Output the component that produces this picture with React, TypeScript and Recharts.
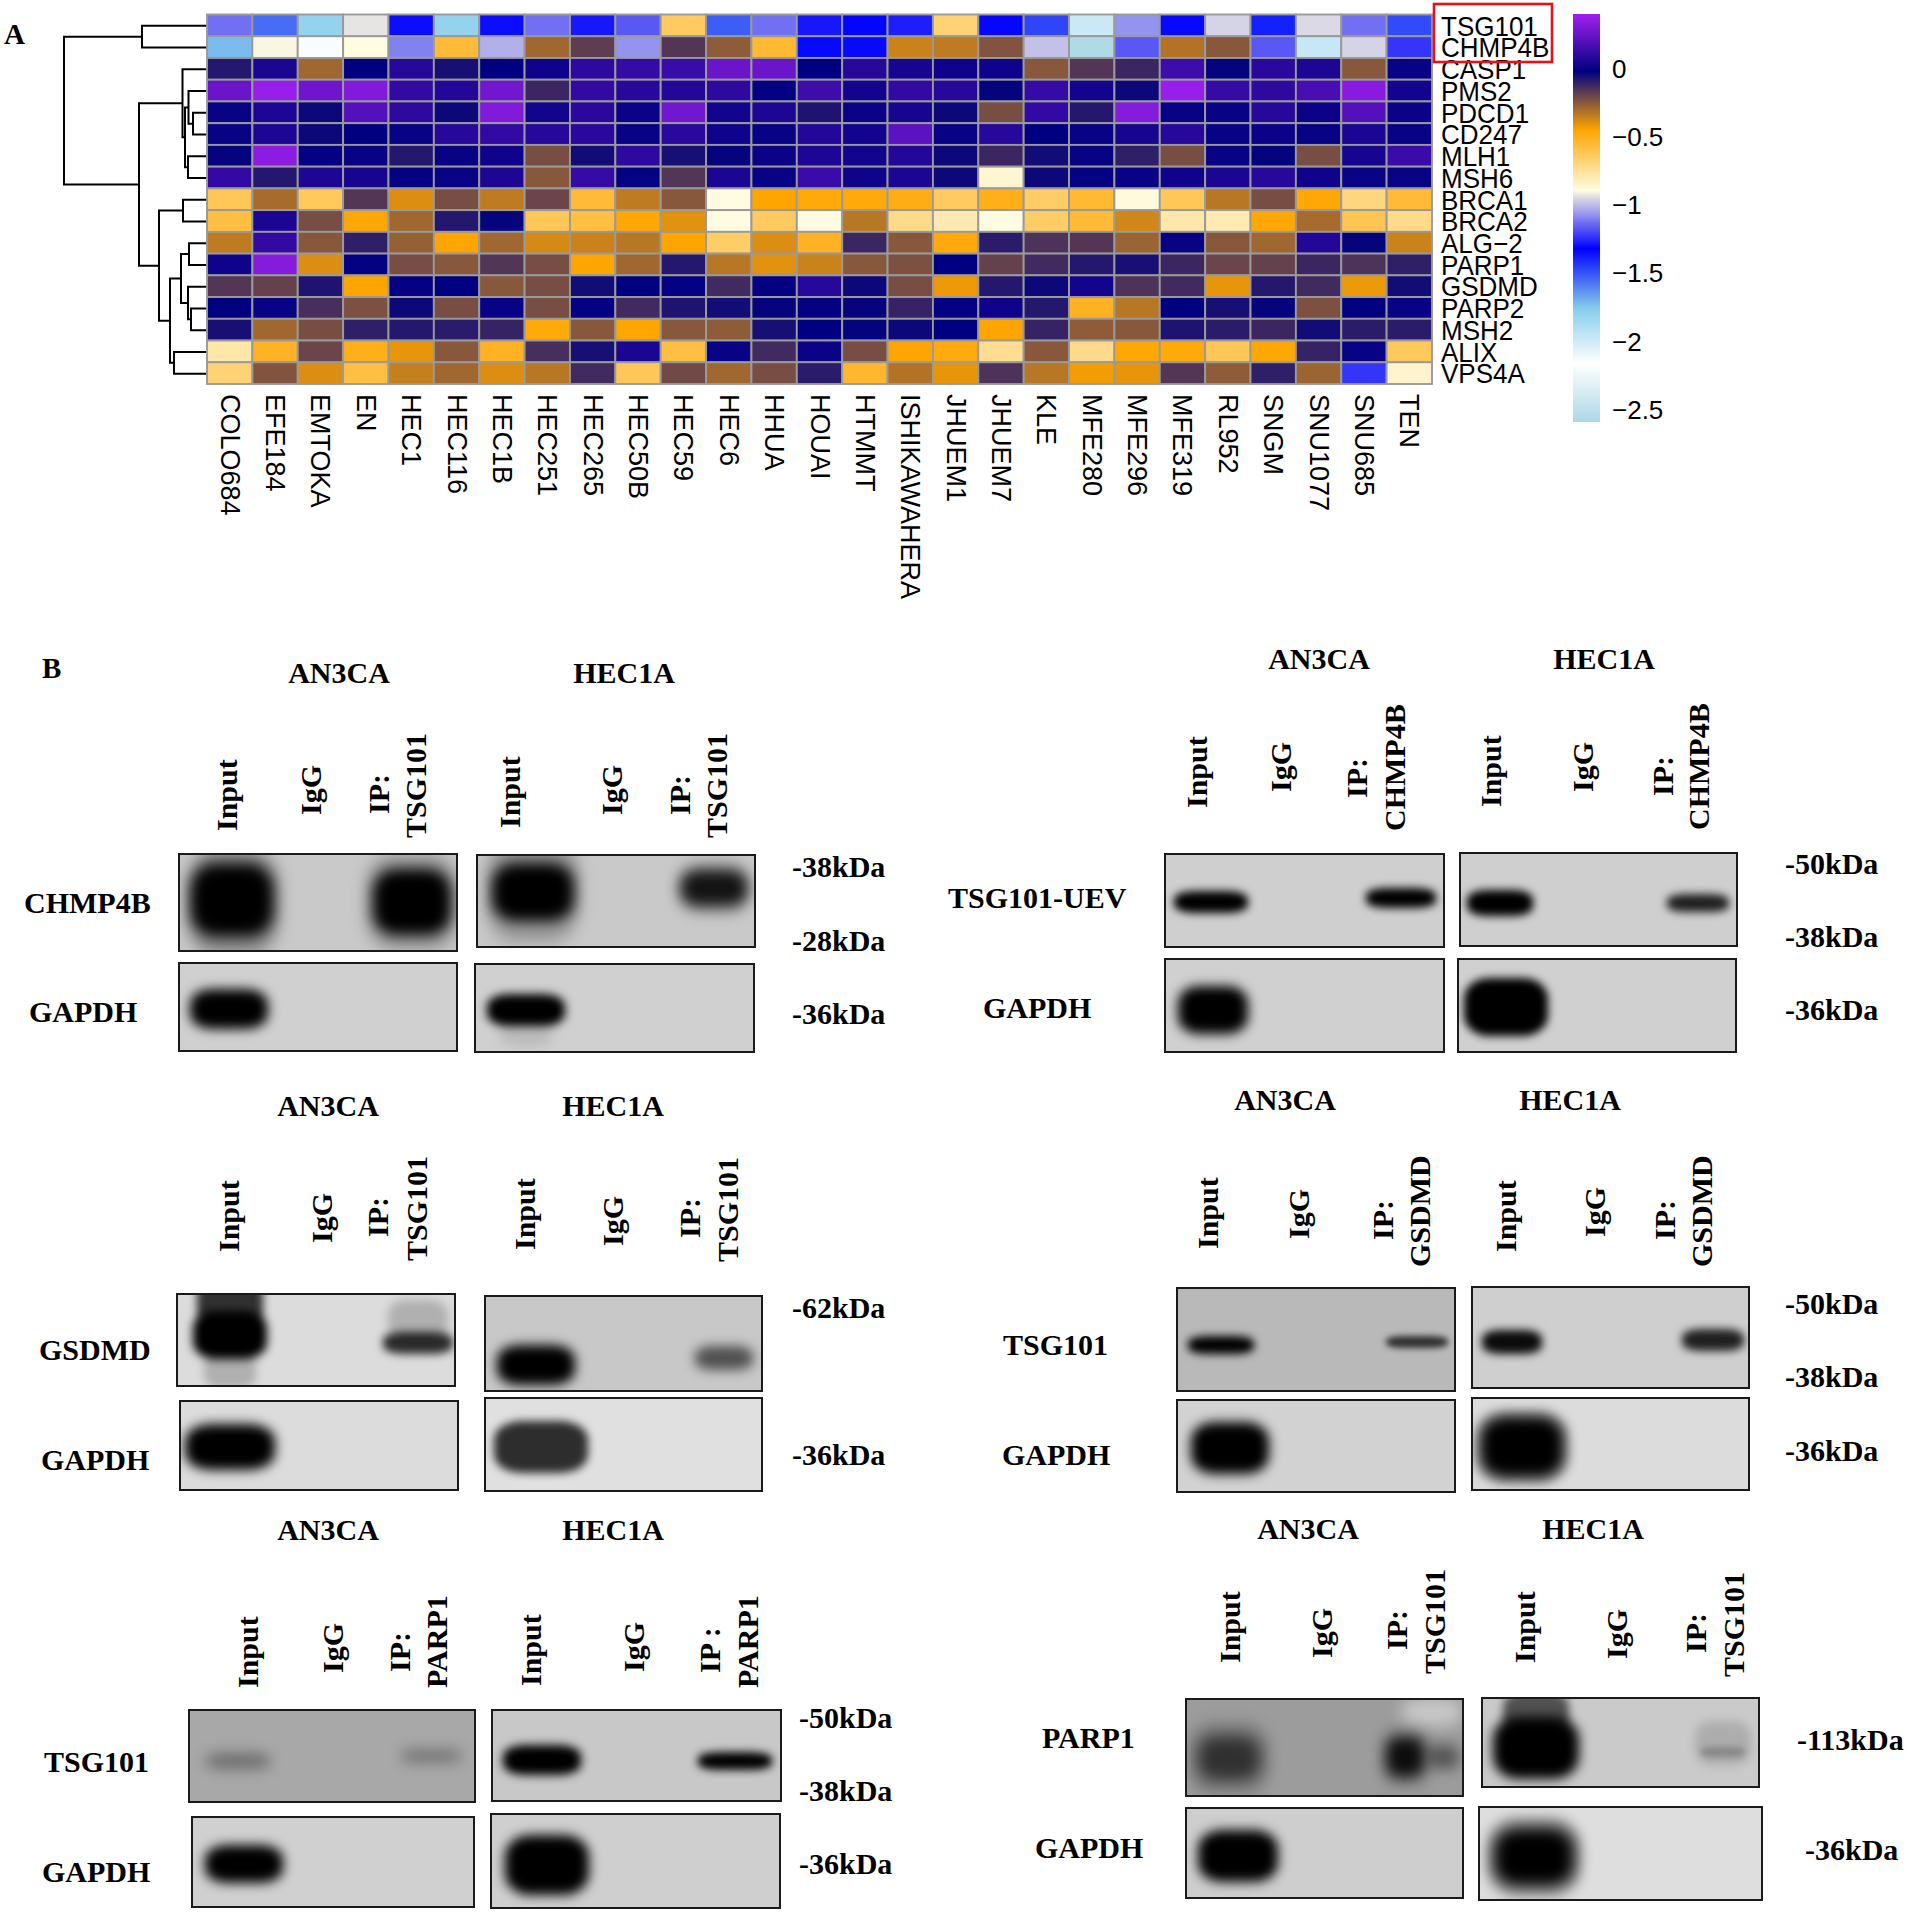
import React from "react";
import { BarChart, Bar, Scatter, ScatterChart, XAxis, YAxis } from "recharts";

const cellLines = [
  "COLO684", "EFE184", "EMTOKA", "EN", "HEC1", "HEC116", "HEC1B", "HEC251", "HEC265",
  "HEC50B", "HEC59", "HEC6", "HHUA", "HOUAI", "HTMMT", "ISHIKAWAHERA", "JHUEM1", "JHUEM7",
  "KLE", "MFE280", "MFE296", "MFE319", "RL952", "SNGM", "SNU1077", "SNU685", "TEN",
];
const genes = [
  "TSG101", "CHMP4B", "CASP1", "PMS2", "PDCD1", "CD247", "MLH1", "MSH6", "BRCA1",
  "BRCA2", "ALG\u22122", "PARP1", "GSDMD", "PARP2", "MSH2", "ALIX", "VPS4A",
];

const tsg101 = [-1.13, -1.55, -1.8, -0.93, -1.3, -1.8, -1.3, -1.13, -1.28, -1.17, -0.64, -1.52, -1.13, -1.28, -1.33, -1.27, -0.68, -1.31, -1.47, -1.98, -1.07, -1.34, -0.96, -1.39, -0.95, -1.13, -1.48];
const chmp4b = [-1.72, -0.9, -2.14, -0.89, -1.1, -0.56, -1.02, -0.29, -0.18, -1.07, -0.16, -0.26, -0.55, -1.34, -1.34, -0.36, -0.34, -0.24, -0.99, -2.57, -1.17, -0.32, -0.25, -1.17, -1.97, -0.96, -1.23];
const casp1 = [-0.08, 0.05, -0.29, -0.02, 0.08, -0.06, -0.02, 0.02, 0.1, 0.12, 0.13, 0.26, 0.26, -0.02, 0.08, 0.04, 0.02, 0.02, -0.25, -0.16, -0.12, 0.14, -0.03, 0.09, 0.06, -0.25, 0];
const pms2 = [0.26, 0.38, 0.27, 0.32, 0.11, 0.07, 0.28, -0.12, 0.11, 0.08, 0.07, 0.1, -0.01, 0.14, 0.03, 0.11, 0.08, -0.03, 0.12, 0.03, -0.04, 0.38, 0.12, 0.1, 0.17, 0.34, 0.03];
const pdcd1 = [0, 0.06, -0.04, 0.2, 0.1, -0.04, 0.32, 0.03, 0.09, 0.01, 0.28, 0.03, 0.06, -0.07, 0.01, 0.04, -0.04, -0.22, 0.11, -0.08, 0.33, 0, 0, 0.08, 0.01, 0.2, 0.01];
const cd247 = [0, 0.06, -0.04, -0.02, 0, 0.08, 0.11, 0.08, 0.09, 0, 0.09, 0.02, 0, 0.07, 0.03, 0.22, 0, 0.08, -0.02, 0, 0.04, 0.08, 0, 0.01, 0, 0.05, 0];
const mlh1 = [-0.03, 0.35, -0.01, 0, -0.08, 0, 0.02, -0.22, -0.05, 0.1, -0.06, -0.03, 0.01, 0.06, 0.03, 0.07, -0.04, -0.12, -0.05, 0, -0.1, -0.22, 0, -0.03, -0.22, 0.04, 0.13];
const msh6 = [0.11, -0.08, 0.06, 0.04, -0.01, 0, 0.06, -0.25, 0.12, -0.01, -0.16, 0.05, 0, 0.13, 0.02, 0.05, -0.04, -0.86, -0.04, -0.01, 0, 0.02, 0.05, 0.08, 0.02, 0, 0];
const brca1 = [-0.62, -0.3, -0.63, -0.16, -0.39, -0.22, -0.34, -0.2, -0.56, -0.34, -0.25, -0.89, -0.45, -0.47, -0.47, -0.49, -0.64, -0.5, -0.65, -0.55, -0.88, -0.62, -0.33, -0.22, -0.46, -0.7, -0.56];
const brca2 = [-0.58, 0.05, -0.22, -0.46, -0.29, -0.08, -0.03, -0.62, -0.58, -0.46, -0.4, -0.89, -0.64, -0.89, -0.33, -0.72, -0.8, -0.89, -0.65, -0.56, -0.37, -0.78, -0.8, -0.46, -0.3, -0.61, -0.72];
const alg2 = [-0.34, 0.11, -0.25, -0.1, -0.27, -0.45, -0.29, -0.38, -0.36, -0.33, -0.45, -0.65, -0.39, -0.52, -0.12, -0.25, -0.47, -0.09, -0.15, -0.16, -0.28, 0, -0.25, -0.29, 0.07, -0.03, -0.36];
const parp1 = [0.02, 0.33, -0.39, -0.01, -0.22, -0.25, -0.16, -0.22, -0.45, -0.29, -0.08, -0.33, -0.4, -0.36, -0.25, -0.23, -0.02, -0.19, -0.13, -0.08, -0.06, -0.12, -0.2, -0.19, -0.12, -0.15, -0.1];
const gsdmd = [-0.16, -0.19, -0.07, -0.45, -0.01, -0.02, -0.25, -0.22, -0.05, -0.02, -0.01, -0.13, -0.01, 0.08, -0.04, -0.22, -0.42, -0.08, -0.04, 0.03, -0.15, -0.13, -0.41, -0.08, -0.13, -0.42, -0.05];
const parp2 = [-0.02, 0, -0.14, -0.23, -0.04, -0.22, 0, -0.22, -0.01, -0.13, -0.07, -0.05, -0.03, -0.01, -0.03, -0.11, -0.01, 0.02, -0.08, -0.52, -0.33, -0.02, -0.06, -0.03, -0.23, -0.02, 0];
const msh2 = [-0.06, -0.29, -0.22, -0.1, -0.08, -0.09, -0.11, -0.47, -0.25, -0.45, -0.25, -0.26, -0.06, -0.02, -0.03, -0.04, -0.02, -0.45, -0.11, -0.26, -0.25, -0.07, -0.09, -0.12, -0.05, -0.09, -0.09];
const alix = [-0.78, -0.52, -0.2, -0.5, -0.41, -0.25, -0.52, -0.14, -0.06, 0.05, -0.58, 0, -0.13, 0.01, -0.22, -0.45, -0.48, -0.74, -0.25, -0.72, -0.46, -0.47, -0.62, -0.46, -0.11, 0, -0.63];
const vps4a = [-0.68, -0.24, -0.39, -0.58, -0.35, -0.29, -0.39, -0.33, -0.13, -0.62, -0.21, -0.29, -0.22, -0.09, -0.54, -0.32, -0.41, -0.15, -0.33, -0.43, -0.41, -0.16, -0.26, -0.1, -0.28, -1.23, -0.85];
const geneRows = [tsg101, chmp4b, casp1, pms2, pdcd1, cd247, mlh1, msh6, brca1, brca2, alg2, parp1, gsdmd, parp2, msh2, alix, vps4a];

const colorStops: [number, number[]][] = [
  [0.4, [160, 32, 240]],
  [-0.02, [0, 0, 128]],
  [-0.45, [255, 165, 0]],
  [-0.89, [255, 252, 225]],
  [-1.32, [0, 0, 255]],
  [-1.76, [135, 206, 235]],
  [-2.16, [255, 255, 255]],
  [-2.59, [173, 216, 230]],
];
const colorTicks = [0, -0.5, -1, -1.5, -2, -2.5];

// row clustering, leaves are row numbers and h is the merge height
const dendrogram = {
  h: 143,
  kids: [
    { h: 65, kids: [0, 1] },
    {
      h: 68,
      kids: [
        {
          h: 24.5,
          kids: [
            2,
            {
              h: 22,
              kids: [
                { h: 18.5, kids: [3, { h: 14, kids: [4, 5] }] },
                { h: 19, kids: [6, 7] },
              ],
            },
          ],
        },
        {
          h: 48,
          kids: [
            { h: 24, kids: [8, 9] },
            {
              h: 37,
              kids: [
                {
                  h: 26,
                  kids: [
                    { h: 18, kids: [10, 11] },
                    { h: 19, kids: [12, { h: 16, kids: [13, 14] }] },
                  ],
                },
                { h: 33, kids: [15, 16] },
              ],
            },
          ],
        },
      ],
    },
  ],
};

const serif = '"Liberation Serif", serif';
const sans = '"Liberation Sans", sans-serif';

function cellColor(value: number) {
  for (let i = 1; i < colorStops.length; i++) {
    const [v0, c0] = colorStops[i - 1];
    const [v1, c1] = colorStops[i];
    if (value >= v1) {
      const t = Math.max(0, (v0 - value) / (v0 - v1));
      const c = c0.map((a, k) => Math.round(a + (c1[k] - a) * t));
      return `rgb(${c.join(",")})`;
    }
  }
  return "rgb(173,216,230)";
}

const heatData = geneRows.flatMap((row, r) =>
  row.map((value, c) => ({ col: c + 0.5, row: r + 0.5, value }))
);

const HEAT_LEFT = 207;
const HEAT_RIGHT = 1432;
const HEAT_TOP = 14.5;
const HEAT_BOTTOM = 384;
const CELL_W = (HEAT_RIGHT - HEAT_LEFT) / cellLines.length;
const CELL_H = (HEAT_BOTTOM - HEAT_TOP) / genes.length;

function HeatCell(props: any) {
  const { cx, cy, payload } = props;
  return (
    <rect
      x={cx - CELL_W / 2}
      y={cy - CELL_H / 2}
      width={CELL_W}
      height={CELL_H}
      fill={cellColor(payload.value)}
      stroke="#9a9a9a"
      strokeWidth={1.9}
    />
  );
}

function ColumnTick(props: any) {
  const { x, y, payload } = props;
  return (
    <text
      x={x}
      y={y + 8}
      transform={`rotate(90 ${x} ${y + 8})`}
      dominantBaseline="central"
      fontFamily={sans}
      fontSize={27}
      fill="#000"
    >
      {cellLines[Math.floor(payload.value)]}
    </text>
  );
}

function GeneTick(props: any) {
  const { x, y, payload } = props;
  return (
    <text
      transform={`translate(${x} ${y + 1}) scale(1 1.06)`}
      dominantBaseline="central"
      fontFamily={sans}
      fontSize={26}
      fill="#000"
    >
      {genes[Math.floor(payload.value)]}
    </text>
  );
}

function Heatmap() {
  const ticksX = cellLines.map((_, i) => i + 0.5);
  const ticksY = genes.map((_, i) => i + 0.5);
  return (
    <div style={{ position: "absolute", left: 0, top: 0 }}>
      <ScatterChart
        width={HEAT_RIGHT + 130}
        height={HEAT_BOTTOM + 240}
        margin={{ top: HEAT_TOP, left: HEAT_LEFT, right: 0, bottom: 0 }}
      >
        <XAxis
          type="number"
          dataKey="col"
          domain={[0, cellLines.length]}
          ticks={ticksX}
          interval={0}
          height={240}
          axisLine={false}
          tickLine={false}
          tickSize={0}
          tick={<ColumnTick />}
        />
        <YAxis
          type="number"
          dataKey="row"
          orientation="right"
          reversed
          domain={[0, genes.length]}
          ticks={ticksY}
          interval={0}
          width={130}
          axisLine={false}
          tickLine={false}
          tickSize={0}
          tickMargin={9}
          tick={<GeneTick />}
        />
        <Scatter data={heatData} shape={<HeatCell />} isAnimationActive={false} />
      </ScatterChart>
    </div>
  );
}

// flatten the tree into one three-sided bracket per merge
function brackets(node: any, out: any[] = []): { h: number; y: number } {
  if (typeof node === "number") return { h: 0, y: node + 0.5 };
  const a = brackets(node.kids[0], out);
  const b = brackets(node.kids[1], out);
  out.push([
    { h: a.h, y: a.y },
    { h: node.h, y: a.y },
    { h: node.h, y: b.y },
    { h: b.h, y: b.y },
  ]);
  return { h: node.h, y: (a.y + b.y) / 2 };
}

function Dendrogram() {
  const segs: any[] = [];
  brackets(dendrogram, segs);
  return (
    <div style={{ position: "absolute", left: HEAT_LEFT - 150, top: HEAT_TOP }}>
      <ScatterChart
        width={150}
        height={HEAT_BOTTOM - HEAT_TOP}
        margin={{ top: 0, left: 0, right: 0, bottom: 0 }}
      >
        <XAxis type="number" dataKey="h" domain={[0, 150]} reversed hide />
        <YAxis type="number" dataKey="y" domain={[0, genes.length]} reversed hide />
        {segs.map((pts, i) => (
          <Scatter
            key={i}
            data={pts}
            line={{ stroke: "#000", strokeWidth: 2 }}
            shape={() => <g />}
            isAnimationActive={false}
          />
        ))}
      </ScatterChart>
    </div>
  );
}

function ColorBar() {
  const top = colorStops[0][0];
  const bottom = colorStops[colorStops.length - 1][0];
  return (
    <div style={{ position: "absolute", left: 1573, top: 14 }}>
      <BarChart
        width={127}
        height={408}
        data={[{ name: "scale", range: [bottom, top] }]}
        margin={{ top: 0, left: 0, right: 0, bottom: 0 }}
        barCategoryGap={0}
      >
        <defs>
          <linearGradient id="colorbar" x1="0" y1="0" x2="0" y2="1">
            {colorStops.map(([v, c]) => (
              <stop
                key={v}
                offset={(top - v) / (top - bottom)}
                stopColor={`rgb(${c.join(",")})`}
              />
            ))}
          </linearGradient>
        </defs>
        <XAxis dataKey="name" hide />
        <YAxis
          type="number"
          orientation="right"
          domain={[bottom, top]}
          ticks={colorTicks}
          interval={0}
          width={100}
          axisLine={false}
          tickLine={false}
          tickSize={0}
          tickMargin={12}
          tickFormatter={(v: number) => String(v).replace("-", "\u2212")}
          tick={{ fill: "#000", fontSize: 26, fontFamily: sans }}
        />
        <Bar dataKey="range" fill="url(#colorbar)" isAnimationActive={false} />
      </BarChart>
    </div>
  );
}

// blots in page pixels: x, y, w, h, background, bands
// band = [lane centre, y centre, half width, half height, darkness, blur]
const chmp4bBlots = [
  [178, 853, 280, 99, "#c9c9c9", [[233, 902, 46, 52, 0.35, 8], [232, 900, 38, 33, 1, 7], [412, 902, 46, 48, 0.25, 8], [412, 902, 36, 30, 1, 7]]],
  [476, 854, 280, 94, "#c9c9c9", [[533, 890, 46, 52, 0.25, 8], [533, 892, 38, 26, 1, 7], [714, 888, 36, 26, 0.2, 7], [714, 888, 30, 15, 0.88, 7]]],
  [178, 962, 280, 90, "#d0d0d0", [[229, 1009, 36, 17, 1, 6]]],
  [474, 963, 281, 90, "#d0d0d0", [[526, 1010, 36, 13, 1, 5], [526, 1030, 26, 16, 0.1, 6]]],
];
const uevBlots = [
  [1164, 853, 281, 95, "#cfcfcf", [[1211, 902, 34, 8, 1, 4], [1401, 898, 32, 7, 1, 4]]],
  [1459, 852, 279, 95, "#cfcfcf", [[1500, 903, 30, 10, 1, 4], [1698, 903, 28, 6, 0.85, 4]]],
  [1164, 958, 281, 95, "#d0d0d0", [[1213, 1010, 32, 21, 1, 6]]],
  [1457, 958, 280, 95, "#d0d0d0", [[1506, 1007, 39, 26, 1, 4]]],
];
const gsdmdBlots = [
  [176, 1293, 280, 94, "#dcdcdc", [[230, 1335, 34, 21, 1, 5], [230, 1302, 30, 22, 0.78, 4], [230, 1370, 26, 18, 0.2, 4], [418, 1343, 32, 8, 0.8, 4], [418, 1320, 30, 20, 0.2, 5]]],
  [484, 1295, 279, 97, "#c8c8c8", [[536, 1365, 36, 17, 1, 6], [724, 1358, 26, 9, 0.6, 6]]],
  [179, 1400, 280, 91, "#dcdcdc", [[230, 1447, 42, 20, 1, 6]]],
  [484, 1397, 279, 95, "#e0e0e0", [[541, 1447, 44, 23, 0.8, 4]]],
];
const gsdmdIpBlots = [
  [1176, 1287, 280, 105, "#b9b9b9", [[1221, 1345, 30, 6, 1, 4], [1417, 1342, 28, 3, 0.75, 3]]],
  [1471, 1286, 279, 103, "#cfcfcf", [[1512, 1342, 27, 9, 0.95, 4], [1713, 1340, 28, 8, 0.85, 4]]],
  [1176, 1399, 280, 94, "#d2d2d2", [[1230, 1448, 36, 23, 1, 6]]],
  [1471, 1397, 279, 94, "#dcdcdc", [[1522, 1447, 46, 36, 0.22, 5], [1522, 1447, 39, 28, 1, 7]]],
];
const parpIpBlots = [
  [188, 1709, 288, 94, "#a8a8a8", [[238, 1761, 32, 8, 0.35, 7], [431, 1756, 30, 7, 0.3, 7]]],
  [491, 1709, 291, 93, "#c8c8c8", [[542, 1760, 36, 12, 1, 5], [735, 1761, 34, 6, 1, 4]]],
  [191, 1816, 284, 92, "#d0d0d0", [[244, 1864, 36, 16, 1, 6]]],
  [490, 1813, 291, 96, "#cfcfcf", [[547, 1865, 39, 27, 1, 6]]],
];
const tsgIpBlots = [
  [1185, 1698, 279, 99, "#9c9c9c", [[1432, 1712, 30, 14, -0.45, 8], [1229, 1758, 40, 36, 0.18, 7], [1229, 1758, 28, 19, 0.62, 8], [1405, 1757, 24, 30, 0.15, 7], [1405, 1757, 16, 17, 0.9, 7], [1443, 1757, 16, 12, 0.45, 7]]],
  [1481, 1697, 279, 91, "#cacaca", [[1536, 1712, 30, 17, 0.6, 4], [1536, 1748, 40, 28, 1, 6], [1723, 1743, 28, 22, 0.14, 5], [1723, 1752, 22, 5, 0.22, 3]]],
  [1185, 1807, 279, 92, "#cecece", [[1238, 1856, 37, 23, 1, 6]]],
  [1478, 1806, 285, 95, "#dedede", [[1534, 1857, 46, 40, 0.22, 6], [1534, 1857, 38, 27, 1, 8]]],
];
const allBlots = [chmp4bBlots, uevBlots, gsdmdBlots, gsdmdIpBlots, parpIpBlots, tsgIpBlots].flat();

// panel titles, cell line name then x, baseline
const cellTitles: [string, number, number][] = [
  ["AN3CA", 339, 683], ["HEC1A", 624, 683],
  ["AN3CA", 1319, 669], ["HEC1A", 1604, 669],
  ["AN3CA", 328, 1116], ["HEC1A", 613, 1116],
  ["AN3CA", 1285, 1110], ["HEC1A", 1570, 1110],
  ["AN3CA", 328, 1540], ["HEC1A", 613, 1540],
  ["AN3CA", 1308, 1539], ["HEC1A", 1593, 1539],
];
// rotated lane labels, text, x centre, bottom end
const laneLabels: [string, number, number][] = [
  ["Input", 226, 831], ["IgG", 310, 815], ["IP:", 378, 814], ["TSG101", 415, 838],
  ["Input", 509, 828], ["IgG", 611, 815], ["IP:", 679, 815], ["TSG101", 716, 838],
  ["Input", 1196, 808], ["IgG", 1280, 792], ["IP:", 1356, 798], ["CHMP4B", 1394, 831],
  ["Input", 1490, 807], ["IgG", 1582, 792], ["IP:", 1662, 796], ["CHMP4B", 1698, 830],
  ["Input", 228, 1252], ["IgG", 321, 1243], ["IP:", 377, 1237], ["TSG101", 416, 1261],
  ["Input", 524, 1250], ["IgG", 612, 1246], ["IP:", 689, 1238], ["TSG101", 727, 1262],
  ["Input", 1207, 1249], ["IgG", 1298, 1239], ["IP:", 1382, 1240], ["GSDMD", 1419, 1267],
  ["Input", 1505, 1252], ["IgG", 1594, 1237], ["IP:", 1664, 1240], ["GSDMD", 1701, 1267],
  ["Input", 247, 1688], ["IgG", 332, 1673], ["IP:", 399, 1672], ["PARP1", 436, 1688],
  ["Input", 530, 1686], ["IgG", 633, 1672], ["IP :", 709, 1673], ["PARP1", 747, 1688],
  ["Input", 1229, 1663], ["IgG", 1321, 1658], ["IP:", 1396, 1650], ["TSG101", 1434, 1674],
  ["Input", 1524, 1663], ["IgG", 1616, 1659], ["IP:", 1695, 1653], ["TSG101", 1733, 1677],
];
// antibody and marker labels, text, left, baseline
const sideLabels: [string, number, number][] = [
  ["CHMP4B", 24, 913], ["GAPDH", 29, 1022], ["-38kDa", 792, 877], ["-28kDa", 792, 951], ["-36kDa", 792, 1024],
  ["TSG101-UEV", 948, 908], ["GAPDH", 983, 1018], ["-50kDa", 1785, 874], ["-38kDa", 1785, 947], ["-36kDa", 1785, 1020],
  ["GSDMD", 39, 1360], ["GAPDH", 41, 1470], ["-62kDa", 792, 1318], ["-36kDa", 792, 1465],
  ["TSG101", 1003, 1355], ["GAPDH", 1002, 1465], ["-50kDa", 1785, 1314], ["-38kDa", 1785, 1387], ["-36kDa", 1785, 1461],
  ["TSG101", 44, 1772], ["GAPDH", 42, 1882], ["-50kDa", 799, 1728], ["-38kDa", 799, 1801], ["-36kDa", 799, 1874],
  ["PARP1", 1042, 1748], ["GAPDH", 1035, 1858], ["-113kDa", 1797, 1750], ["-36kDa", 1805, 1860],
];

function BandShape(props: any) {
  const { cx, cy, payload } = props;
  const { dark, blur } = payload;
  // blur eats the edge of a strong band, so give those a little more size
  const grow = dark >= 0.6 ? 3 : 0;
  const rw = payload.rw + grow;
  const rh = payload.rh + grow;
  return (
    <rect
      x={cx - rw}
      y={cy - rh}
      width={rw * 2}
      height={rh * 2}
      rx={rw * 0.6}
      ry={rh * 0.7}
      fill={dark < 0 ? "#fff" : "#000"}
      fillOpacity={Math.abs(dark)}
      style={{ filter: `blur(${blur}px)` }}
    />
  );
}

function Blot({ spec }: { spec: any[] }) {
  const [x, y, w, h, bg, bands] = spec;
  const data = bands.map((b: number[]) => ({
    lane: b[0], pos: b[1], rw: b[2], rh: b[3], dark: b[4], blur: b[5],
  }));
  return (
    <div
      style={{
        position: "absolute",
        left: x,
        top: y,
        width: w,
        height: h,
        boxSizing: "border-box",
        border: "2px solid #1a1a1a",
        background: bg,
        overflow: "hidden",
      }}
    >
      <ScatterChart
        width={w - 4}
        height={h - 4}
        margin={{ top: 0, left: 0, right: 0, bottom: 0 }}
      >
        <XAxis type="number" dataKey="lane" domain={[x + 2, x + w - 2]} hide />
        <YAxis type="number" dataKey="pos" domain={[y + 2, y + h - 2]} reversed hide />
        <Scatter data={data} shape={<BandShape />} isAnimationActive={false} />
      </ScatterChart>
    </div>
  );
}

function Labels() {
  return (
    <svg
      width={1908}
      height={1914}
      style={{ position: "absolute", left: 0, top: 0, pointerEvents: "none" }}
      fontFamily={serif}
      fontWeight="bold"
      fontSize={30}
      fill="#000"
    >
      <text x={4} y={44} fontSize={29}>A</text>
      <text x={42} y={678} fontSize={29}>B</text>
      {cellTitles.map(([t, x, y], i) => (
        <text key={i} x={x} y={y} textAnchor="middle">{t}</text>
      ))}
      {laneLabels.map(([t, x, y], i) => (
        <text
          key={i}
          x={x}
          y={y}
          transform={`rotate(-90 ${x} ${y})`}
          dominantBaseline="central"
        >
          {t}
        </text>
      ))}
      {sideLabels.map(([t, x, y], i) => (
        <text key={i} x={x} y={y}>{t}</text>
      ))}
      <rect x={1434} y={4} width={118} height={58} fill="none" stroke="#e3131b" strokeWidth={2.6} />
    </svg>
  );
}

export default function App() {
  return (
    <div
      style={{
        position: "absolute",
        left: 0,
        top: 0,
        width: 1908,
        height: 1914,
        background: "#fff",
        overflow: "hidden",
      }}
    >
      <Dendrogram />
      <Heatmap />
      <ColorBar />
      {allBlots.map((spec, i) => (
        <Blot key={i} spec={spec} />
      ))}
      <Labels />
    </div>
  );
}
